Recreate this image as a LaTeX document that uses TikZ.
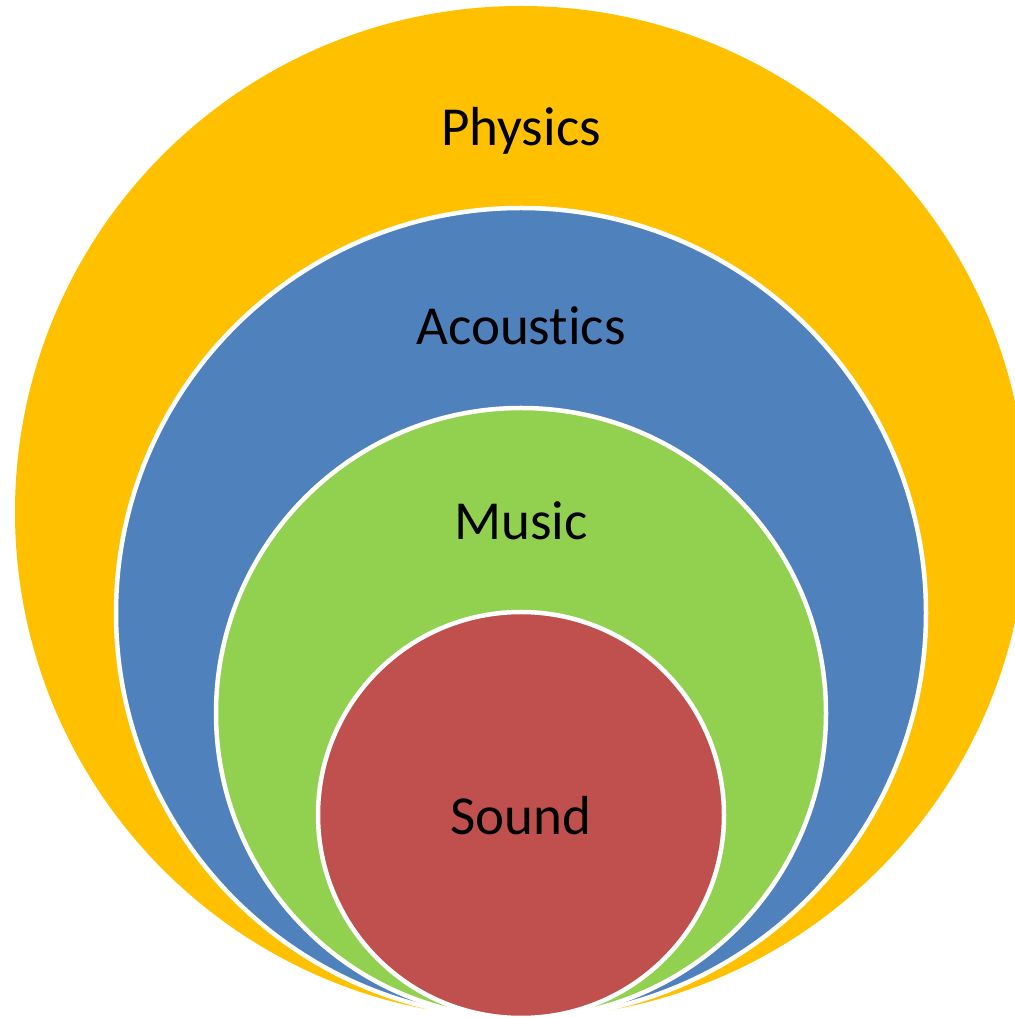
\documentclass[tikz,border=0pt]{standalone}
\usepackage{fontspec}
\setmainfont[Ligatures=NoCommon]{Carlito}
\definecolor{physicsc}{HTML}{FFC000}
\definecolor{acousticsc}{HTML}{4F81BD}
\definecolor{musicc}{HTML}{92D050}
\definecolor{soundc}{HTML}{C0504D}
\begin{document}
\begin{tikzpicture}[x=1pt,y=1pt,
  ring/.style={circle, draw=white, line width=4.5pt, inner sep=0pt, outer sep=0pt},
  lbl/.style={anchor=base, font=\fontsize{55}{64}\selectfont, text=black, inner sep=0pt}]
\useasboundingbox (0,0) rectangle (1015,1018);
\node[ring, draw=none, fill=physicsc, minimum size=1012pt] (physics) at (521,506) {};
\node[ring, fill=acousticsc, minimum size=810pt] (acoustics) at (521,405) {};
\node[ring, fill=musicc, minimum size=610pt] (music) at (521,305) {};
\node[ring, fill=soundc, minimum size=406pt] (sound) at (521,203) {};
\node[lbl] (tphysics) at (521,872) {Physics};
\node[lbl] (tacoustics) at (521,673) {Acoustics};
\node[lbl] (tmusic) at (521,478) {Music};
\node[lbl] (tsound) at (521,183) {Sound};
\end{tikzpicture}
\end{document}
